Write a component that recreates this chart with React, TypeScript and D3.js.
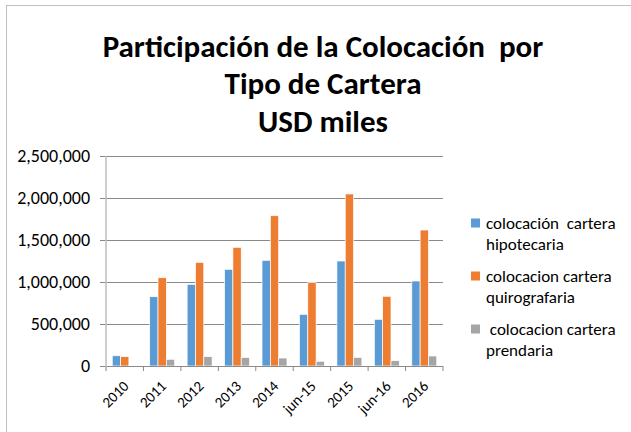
import { useEffect, useRef } from 'react';
import * as d3 from 'd3';

const categories = ['2010', '2011', '2012', '2013', '2014', 'jun-15', '2015', 'jun-16', '2016'];
const hipotecaria = [122000, 825000, 972000, 1151000, 1258000, 615000, 1250000, 556000, 1012000];
const quirografaria = [111000, 1051000, 1234000, 1413000, 1789000, 992000, 2048000, 830000, 1619000];
const prendaria = [8000, 80000, 111000, 103000, 95000, 56000, 103000, 63000, 119000];
const yTicks = [0, 500000, 1000000, 1500000, 2000000, 2500000];

const seriesNames = ['colocación  cartera hipotecaria', 'colocacion cartera quirografaria', ' colocacion cartera prendaria'];
const legendLines = [
  ['colocación  cartera', 'hipotecaria'],
  ['colocacion cartera', 'quirografaria'],
  [' colocacion cartera', 'prendaria'],
];
const colors = ['#5B9BD5', '#ED7D31', '#A5A5A5'];
const titleLines = ['Participación de la Colocación  por', 'Tipo de Cartera', 'USD miles'];

const FONT = 'Carlito, Lato, "Open Sans", sans-serif';

const Chart = () => {
  const ref = useRef<SVGSVGElement>(null);

  useEffect(() => {
    const svg = d3.select(ref.current);
    svg.selectAll('*').remove();

    const left = 106;
    const right = 443;
    const top = 156;
    const bottom = 366;

    const x0 = d3.scaleBand().domain(categories).range([left, right]).padding(0);
    const x1 = d3
      .scaleBand()
      .domain(seriesNames)
      .range([0, x0.bandwidth()])
      .paddingInner(0)
      .paddingOuter(0.75);
    const y = d3.scaleLinear().domain([0, 2500000]).range([bottom, top]);

    // outer border
    svg
      .append('rect')
      .attr('x', 6.5)
      .attr('y', 5.5)
      .attr('width', 700)
      .attr('height', 600)
      .attr('fill', 'white')
      .attr('stroke', '#bfbfbf');

    // title
    svg
      .append('g')
      .selectAll('text')
      .data(titleLines)
      .join('text')
      .attr('x', 323)
      .attr('y', (_, i) => 56.5 + i * 37.5)
      .attr('text-anchor', 'middle')
      .style('white-space', 'pre')
      .attr('font-family', FONT)
      .attr('font-weight', 'bold')
      .attr('font-size', 31)
      .attr('fill', '#000')
      .text((d) => d);

    // gridlines
    svg
      .append('g')
      .selectAll('line')
      .data(yTicks.slice(1))
      .join('line')
      .attr('x1', left - 6)
      .attr('x2', right)
      .attr('y1', (d) => y(d) + 0.5)
      .attr('y2', (d) => y(d) + 0.5)
      .attr('stroke', '#8a8a8a')
      .attr('stroke-width', 1);

    // y labels
    svg
      .append('g')
      .selectAll('text')
      .data(yTicks)
      .join('text')
      .attr('x', 90)
      .attr('y', (d) => y(d))
      .attr('dy', '0.35em')
      .attr('text-anchor', 'end')
      .attr('font-family', FONT)
      .attr('font-size', 18)
      .attr('fill', '#000')
      .text((d) => d3.format(',')(d));

    // bars
    const data = categories.map((c, i) => ({
      c,
      vals: [hipotecaria[i], quirografaria[i], prendaria[i]],
    }));
    const groups = svg
      .append('g')
      .selectAll('g')
      .data(data)
      .join('g')
      .attr('transform', (d) => `translate(${x0(d.c)},0)`);
    groups
      .selectAll('rect')
      .data((d) => d.vals.map((v, k) => ({ v, k })))
      .join('rect')
      .attr('x', (d) => x1(seriesNames[d.k])!)
      .attr('y', (d) => y(d.v))
      .attr('width', x1.bandwidth())
      .attr('height', (d) => y(0) - y(d.v))
      .attr('fill', (d) => colors[d.k])
      .attr('stroke', 'white')
      .attr('stroke-width', 0.7);

    // x axis line + ticks
    svg
      .append('line')
      .attr('x1', left - 6)
      .attr('x2', right)
      .attr('y1', bottom + 0.5)
      .attr('y2', bottom + 0.5)
      .attr('stroke', '#8a8a8a');
    const bounds = categories.map((c) => x0(c)!).concat([right]);
    svg
      .append('g')
      .selectAll('line')
      .data(bounds)
      .join('line')
      .attr('x1', (d) => d)
      .attr('x2', (d) => d)
      .attr('y1', bottom)
      .attr('y2', bottom + 5)
      .attr('stroke', '#8a8a8a');

    // y axis line
    svg
      .append('line')
      .attr('x1', left)
      .attr('x2', left)
      .attr('y1', top)
      .attr('y2', bottom + 5)
      .attr('stroke', '#bcbcbc')
      .attr('stroke-width', 1.5);

    // x labels
    svg
      .append('g')
      .selectAll('text')
      .data(categories)
      .join('text')
      .attr('transform', (d) => `translate(${x0(d)! + x0.bandwidth() / 2 + 5},${bottom + 21}) rotate(-45)`)
      .attr('text-anchor', 'end')
      .attr('font-family', FONT)
      .attr('font-size', 15)
      .attr('fill', '#000')
      .text((d) => d);

    // legend
    const lg = svg
      .append('g')
      .selectAll('g')
      .data(legendLines)
      .join('g')
      .attr('transform', (_, i) => `translate(471,${223 + i * 53})`);
    lg.append('rect')
      .attr('x', 0)
      .attr('y', -4.5)
      .attr('width', 9)
      .attr('height', 9)
      .attr('fill', (_, i) => colors[i]);
    lg.selectAll('text')
      .data((d) => d)
      .join('text')
      .attr('x', 15)
      .attr('y', (_, j) => j * 21)
      .attr('dy', '0.35em')
      .style('white-space', 'pre')
      .attr('font-family', FONT)
      .attr('font-size', 17)
      .attr('fill', '#000')
      .text((d) => d);
  }, []);

  return (
    <svg
      ref={ref}
      width={631}
      height={432}
      style={{ position: 'absolute', left: 0, top: 0, background: 'white' }}
    />
  );
};

export default function App() {
  return (
    <div>
      <Chart />
    </div>
  );
}
